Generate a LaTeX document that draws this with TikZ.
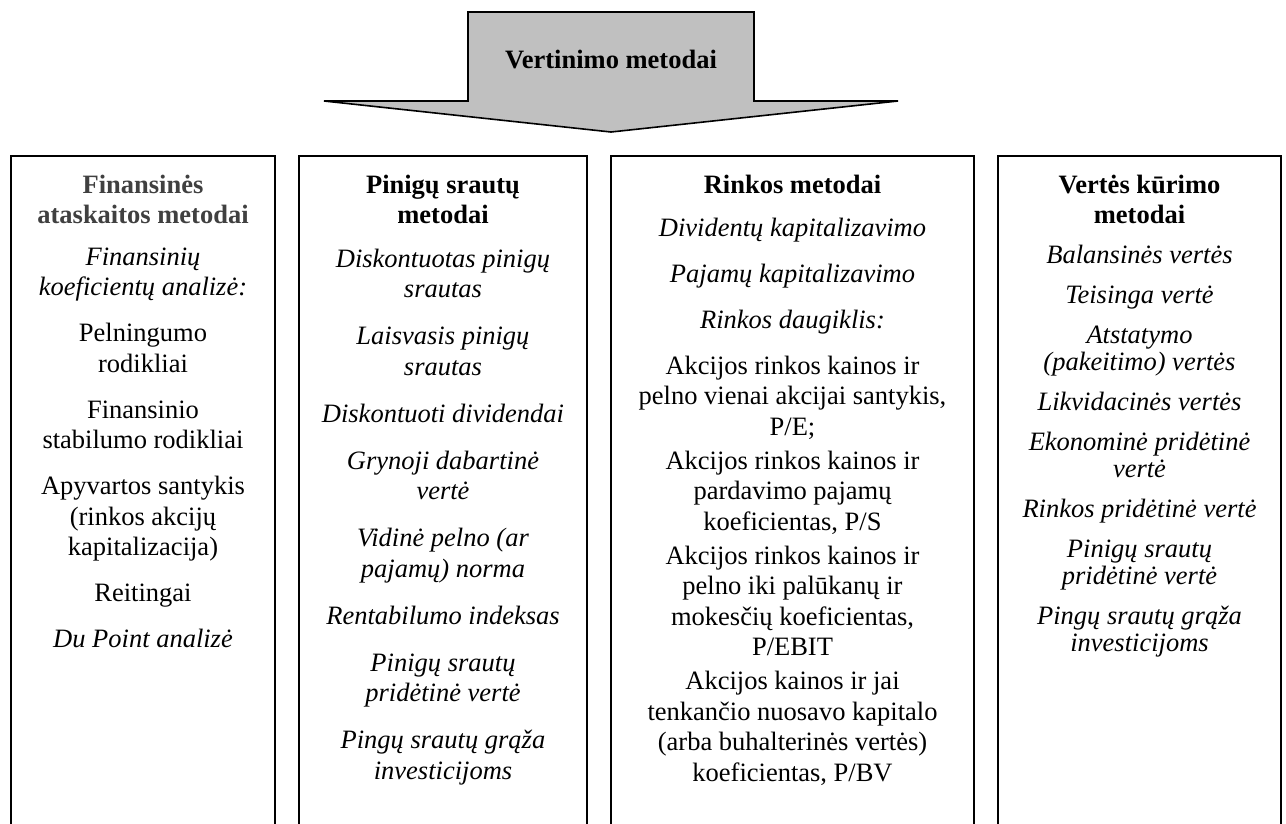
\documentclass[tikz,border=0pt]{standalone}
\usepackage{fontspec}
\setmainfont{Liberation Serif}
\definecolor{arrowgray}{HTML}{C0C0C0}
\definecolor{titlegray}{HTML}{404040}
\newcommand{\fl}{\rule{0pt}{21pt}}
\begin{document}
\begin{tikzpicture}[x=1pt,y=-1pt,
  boxline/.style={line width=2pt, draw=black},
  arrowshape/.style={line width=1.6pt, draw=black, fill=arrowgray, line join=miter},
  coltext/.style={anchor=north, inner sep=0pt, align=center, font=\fontsize{26.5}{30.5}\selectfont},
  tightcol/.style={coltext, font=\fontsize{26.5}{27}\selectfont},
  coltitle/.style={coltext, font=\fontsize{26.5}{30}\selectfont\bfseries},
  headtext/.style={anchor=base, inner sep=0pt, font=\fontsize{26.5}{30.5}\selectfont\bfseries}]
\useasboundingbox (0,0) rectangle (1286,823);
\fill[white] (0,0) rectangle (1286,823);

% big arrow
\draw[arrowshape] (468,101) -- (468,12) -- (754,12) -- (754,101) -- (898,101) -- (611,132) -- (324,101) -- cycle;
\node[headtext] (head) at (611,68) {Vertinimo metodai};

% boxes (open at the bottom edge of the page)
\draw[boxline] (11,840) -- (11,156) -- (275,156) -- (275,840);
\draw[boxline] (299,840) -- (299,156) -- (587,156) -- (587,840);
\draw[boxline] (611,840) -- (611,156) -- (974,156) -- (974,840);
\draw[boxline] (998,840) -- (998,156) -- (1281,156) -- (1281,840);

% titles
\node[coltitle] (t1) at (143,172) {\fl{\color{titlegray}Finansinės}\\{\color{titlegray}ataskaitos metodai}};
\node[coltitle] (t2) at (443,172) {\fl Pinigų srautų\\metodai};
\node[coltitle] (t3) at (792.5,172) {\fl Rinkos metodai};
\node[coltitle] (t4) at (1139.5,172) {\fl Vertės kūrimo\\metodai};

% column 1
\node[coltext] (col1) at (143,244) {%
\fl{\itshape Finansinių}\\
{\itshape koeficientų analizė:}\\[15.5pt]
Pelningumo\\
rodikliai\\[15.5pt]
Finansinio\\
stabilumo rodikliai\\[15.5pt]
Apyvartos santykis\\
(rinkos akcijų\\
kapitalizacija)\\[15.5pt]
Reitingai\\[15.5pt]
{\itshape Du Point analizė}};

% column 2
\node[coltext] (col2) at (443,246) {%
\fl{\itshape Diskontuotas pinigų}\\
{\itshape srautas}\\[16.5pt]
{\itshape Laisvasis pinigų}\\
{\itshape srautas}\\[16.5pt]
{\itshape Diskontuoti dividendai}\\[16.5pt]
{\itshape Grynoji dabartinė}\\
{\itshape vertė}\\[16.5pt]
{\itshape Vidinė pelno (ar}\\
{\itshape pajamų) norma}\\[16.5pt]
{\itshape Rentabilumo indeksas}\\[16.5pt]
{\itshape Pinigų srautų}\\
{\itshape pridėtinė vertė}\\[16.5pt]
{\itshape Pingų srautų grąža}\\
{\itshape investicijoms}};

% column 3
\node[coltext] (col3) at (792.5,215) {%
\fl{\itshape Dividentų kapitalizavimo}\\[15.5pt]
{\itshape Pajamų kapitalizavimo}\\[15.5pt]
{\itshape Rinkos daugiklis:}\\[15.5pt]
Akcijos rinkos kainos ir\\
pelno vienai akcijai santykis,\\
P/E;\\[3.5pt]
Akcijos rinkos kainos ir\\
pardavimo pajamų\\
koeficientas, P/S\\[3.5pt]
Akcijos rinkos kainos ir\\
pelno iki palūkanų ir\\
mokesčių koeficientas,\\
P/EBIT\\[3.5pt]
Akcijos kainos ir jai\\
tenkančio nuosavo kapitalo\\
(arba buhalterinės vertės)\\
koeficientas, P/BV};

% column 4
\node[tightcol] (col4) at (1139.5,242) {%
\fl{\itshape Balansinės vertės}\\[13pt]
{\itshape Teisinga vertė}\\[13pt]
{\itshape Atstatymo}\\
{\itshape (pakeitimo) vertės}\\[13pt]
{\itshape Likvidacinės vertės}\\[13pt]
{\itshape Ekonominė pridėtinė}\\
{\itshape vertė}\\[13pt]
{\itshape Rinkos pridėtinė vertė}\\[13pt]
{\itshape Pinigų srautų}\\
{\itshape pridėtinė vertė}\\[13pt]
{\itshape Pingų srautų grąža}\\
{\itshape investicijoms}};
\end{tikzpicture}
\end{document}
